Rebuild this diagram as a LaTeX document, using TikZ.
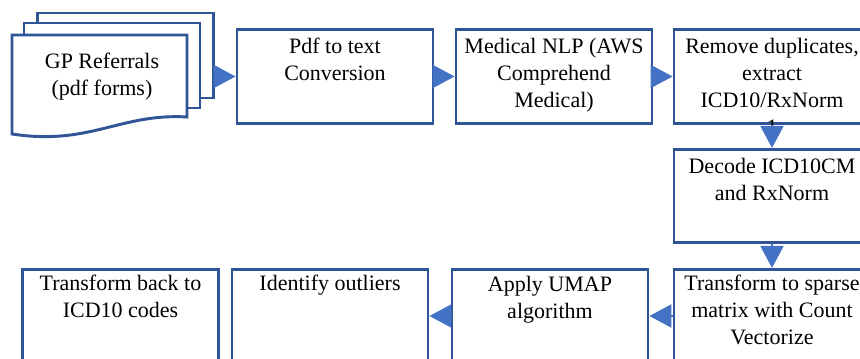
\documentclass[tikz,border=0pt]{standalone}
\usepackage{fontspec}
\setmainfont{Liberation Serif}
\usepackage{tikz}
\usetikzlibrary{positioning}
\usetikzlibrary{arrows.meta}
\definecolor{boxblue}{HTML}{2F5597}
\definecolor{arrowblue}{HTML}{4472C4}
\tikzset{stage/.style={draw=boxblue, line width=2.2pt, fill=white, minimum width=147pt, minimum height=70pt, inner sep=0pt}}
\tikzset{sheet/.style={draw=boxblue, line width=2.2pt, fill=white, minimum width=132pt, minimum height=63.75pt, inner sep=0pt}}
\tikzset{txt/.style={align=center, inner sep=0pt, font=\fontsize{16.5}{20.25}\selectfont}}
\tikzset{flow/.style={draw=arrowblue, line width=0.8pt, -{Triangle[length=16.5pt,width=17.5pt]}}}

\begin{document}
\begin{tikzpicture}[x=0.75pt,y=-0.75pt]
\useasboundingbox (0,0) rectangle (860,359);
\clip (0,0) rectangle (860,359);
% stack of referral forms
\node[sheet] (sheetC) at (125.5,55.5) {};
\node[sheet] (sheetB) at (112,65.5) {};
\draw[boxblue, line width=2.2pt, fill=white] (12,35) -- (187,35) -- (187,117)
  .. controls (120,113) and (90,146) .. (12,134) -- cycle;
\node[txt, anchor=north] (gp) at (102,53) {GP Referrals\\(pdf forms)};
% top row
\node[stage] (b2) at (335,76.5) {};
\node[stage] (b3) at (554,76.5) {};
\node[stage] (b4) at (772,76.5) {};
\node[stage] (b5) at (772,196) {};
% bottom row, right to left
\node[stage] (b6) at (772,316) {};
\node[stage] (b7) at (550,316) {};
\node[stage] (b8) at (330,316) {};
\node[stage] (b9) at (120.5,316) {};
\node[txt, below=7pt of b2.north] (t2) {Pdf to text\\Conversion};
\node[txt, below=7pt of b3.north] (t3) {Medical NLP (AWS\\Comprehend\\Medical)};
\node[txt, below=7pt of b4.north] (t4) {Remove duplicates,\\extract\\ICD10/RxNorm\\1};
\node[txt, below=7.5pt of b5.north] (t5) {Decode ICD10CM\\and RxNorm};
\node[txt, below=5pt of b6.north] (t6) {Transform to sparse\\matrix with Count\\Vectorize};
\node[txt, below=6pt of b7.north] (t7) {Apply UMAP\\algorithm};
\node[txt, below=5pt of b8.north] (t8) {Identify outliers};
\node[txt, below=5pt of b9.north] (t9) {Transform back to\\ICD10 codes};
% connectors
\draw[flow] (sheetC.east |- b2.west) -- (b2.west);
\draw[flow] (b2) -- (b3);
\draw[flow] (b3) -- (b4);
\draw[flow] (b4) -- (b5);
\draw[flow] (b5) -- (b6);
\draw[flow] (b6) -- (b7);
\draw[flow] (b7) -- (b8);
%\draw[flow] (b8) -- (b9);
\end{tikzpicture}
\end{document}
